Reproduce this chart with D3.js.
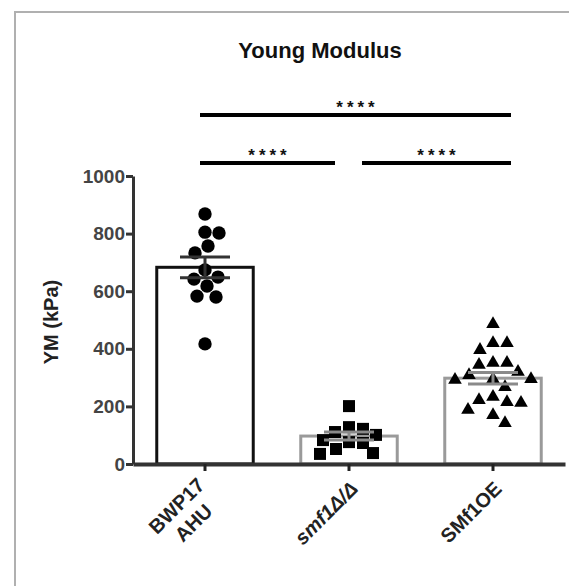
<!DOCTYPE html>
<html lang="en">
<head>
<meta charset="UTF-8">
<title>Young Modulus</title>
<script src="https://d3js.org/d3.v7.min.js"></script>
<style>
    body { margin: 0; background: #fff; }
    svg { display: block; font-family: "Liberation Sans", Arial, sans-serif; font-weight: bold; }
</style>
</head>
<body>
<div id="chart"></div>
<script>
    // data (kPa)
    var groups = ["BWP17\nAHU", "smf1Δ/Δ", "SMf1OE"];
    var wtValues = [868, 805, 802, 757, 733, 674, 649, 642, 618, 583, 580, 417];
    var deltaValues = [201, 128, 122, 111, 101, 83, 76, 73, 52, 38, 35];
    var oeValues = [486, 420, 420, 396, 351, 351, 344, 320, 309, 295, 295, 292, 267, 233, 222, 215, 212, 188, 170, 142];
    var means = [683, 97, 298];
    var sems = [36, 14, 20];
    var yTicks = [0, 200, 400, 600, 800, 1000];
    var comparisons = [
        { from: 0, to: 2, label: "****", level: 1 },
        { from: 0, to: 1, label: "****", level: 0 },
        { from: 1, to: 2, label: "****", level: 0 }
    ];

    var width = 569, height = 586;
    var series = [wtValues, deltaValues, oeValues];
    var markers = ["circle", "square", "triangle"];
    var barStroke = ["#111", "#9a9a9a", "#9a9a9a"];
    var errStroke = ["#333", "#8a8a8a", "#8a8a8a"];

    var svg = d3.select("#chart").append("svg")
        .attr("width", width)
        .attr("height", height);

    svg.append("rect").attr("width", width).attr("height", height).attr("fill", "#fff");

    // outer frame (only top and left edges show in the crop)
    svg.append("rect")
        .attr("x", 15).attr("y", 12)
        .attr("width", 700).attr("height", 700)
        .attr("fill", "none")
        .attr("stroke", "#b0b0b0")
        .attr("stroke-width", 2);

    var x = d3.scaleBand()
        .domain(d3.range(groups.length))
        .range([133, 565])
        .paddingInner(0.33)
        .paddingOuter(0.165);

    var y = d3.scaleLinear()
        .domain([0, 1000])
        .range([464, 176]);

    function cx(i) { return x(i) + x.bandwidth() / 2; }

    // title
    svg.append("text")
        .attr("x", 320).attr("y", 58)
        .attr("text-anchor", "middle")
        .attr("font-size", 22)
        .attr("fill", "#111")
        .text("Young Modulus");

    // bars
    svg.append("g").selectAll("rect")
        .data(means)
        .join("rect")
        .attr("x", (d, i) => x(i))
        .attr("y", d => y(d))
        .attr("width", x.bandwidth())
        .attr("height", d => y(0) - y(d))
        .attr("fill", "#fff")
        .attr("stroke", (d, i) => barStroke[i])
        .attr("stroke-width", 3);

    // simple beeswarm so points don't overlap
    function swarm(values, center, diam) {
        var placed = [];
        values.forEach(function (v) {
            var py = y(v);
            for (var k = 0; k < 80; k++) {
                var cands = k === 0 ? [0] : [k, -k];
                var ok = null;
                for (var c = 0; c < cands.length; c++) {
                    var dx = cands[c];
                    var hit = placed.some(p => (p.dx - dx) * (p.dx - dx) + (p.y - py) * (p.y - py) < diam * diam);
                    if (!hit) { ok = dx; break; }
                }
                if (ok !== null) { placed.push({ v: v, y: py, dx: ok }); break; }
            }
        });
        return placed.map(p => ({ x: center + p.dx, y: p.y }));
    }

    var sym = {
        circle: d3.symbol(d3.symbolCircle, 140),
        square: d3.symbol(d3.symbolSquare, 144),
        triangle: d3.symbol(d3.symbolTriangle, 80)
    };

    series.forEach(function (vals, i) {
        var pts = swarm(vals, cx(i), 14);
        svg.append("g").selectAll("path")
            .data(pts)
            .join("path")
            .attr("transform", d => "translate(" + d.x + "," + d.y + ")")
            .attr("d", sym[markers[i]]())
            .attr("fill", "#000");
    });

    // error bars (mean ± SEM)
    var eg = svg.append("g");
    means.forEach(function (m, i) {
        var c = cx(i), hi = y(m + sems[i]), lo = y(m - sems[i]);
        eg.append("line").attr("x1", c).attr("x2", c).attr("y1", hi).attr("y2", lo);
        eg.append("line").attr("x1", c - 25).attr("x2", c + 25).attr("y1", hi).attr("y2", hi);
        eg.append("line").attr("x1", c - 25).attr("x2", c + 25).attr("y1", lo).attr("y2", lo);
        eg.selectAll("line").filter(function () { return !this.getAttribute("stroke"); })
            .attr("stroke", errStroke[i]).attr("stroke-width", 3);
    });

    // axes
    var yAxis = svg.append("g")
        .attr("transform", "translate(133,0)")
        .call(d3.axisLeft(y).tickValues(yTicks).tickFormat(d3.format("d"))
            .tickSize(7).tickSizeOuter(0).tickPadding(1));
    yAxis.select(".domain").attr("stroke", "#333").attr("stroke-width", 3);
    yAxis.selectAll(".tick line").attr("stroke", "#333").attr("stroke-width", 3);
    yAxis.selectAll(".tick text")
        .attr("font-size", 19).attr("font-family", "Liberation Sans, Arial, sans-serif")
        .attr("font-weight", "bold").attr("fill", "#444");

    var xAxis = svg.append("g")
        .attr("transform", "translate(0," + y(0) + ")")
        .call(d3.axisBottom(x).tickSize(7).tickSizeOuter(0).tickFormat(""));
    xAxis.select(".domain").attr("stroke", "#333").attr("stroke-width", 4);
    xAxis.selectAll(".tick line").attr("stroke", "#222").attr("stroke-width", 3);

    // rotated category labels
    groups.forEach(function (g, i) {
        var lines = g.split("\n");
        var t = svg.append("text")
            .attr("transform", "translate(" + (cx(i) + 5) + "," + (y(0) + 21) + ") rotate(-45)")
            .attr("font-size", 20)
            .attr("fill", "#222")
            .attr("font-style", i === 1 ? "italic" : "normal");
        if (lines.length === 1) {
            t.attr("text-anchor", "end").attr("dy", "0.35em").text(g);
        } else {
            var probe = svg.append("text").attr("font-size", 20).text(lines[0]);
            var len = probe.node().getComputedTextLength();
            probe.remove();
            t.attr("text-anchor", "middle");
            lines.forEach(function (ln, k) {
                t.append("tspan")
                    .attr("x", -len / 2 - 4)
                    .attr("y", 0)
                    .attr("dy", (k * 1.2 - 0.1) + "em")
                    .text(ln);
            });
        }
    });

    // y label
    svg.append("text")
        .attr("transform", "translate(58,322) rotate(-90)")
        .attr("text-anchor", "middle")
        .attr("font-size", 20)
        .attr("fill", "#222")
        .text("YM (kPa)");

    // significance brackets
    var first = 0, last = groups.length - 1;
    comparisons.forEach(function (c) {
        var ly = y(1000) - 13 - c.level * 48;
        var x1 = cx(c.from) + (c.from === first ? -5 : 13);
        var x2 = cx(c.to) + (c.to === last ? 18 : -14);
        svg.append("line")
            .attr("x1", x1).attr("x2", x2)
            .attr("y1", ly).attr("y2", ly)
            .attr("stroke", "#000").attr("stroke-width", 4);
        svg.append("text")
            .attr("x", (x1 + x2) / 2 + 2)
            .attr("y", ly - 2)
            .attr("text-anchor", "middle")
            .attr("font-size", 17)
            .attr("letter-spacing", 4)
            .attr("fill", "#111")
            .text(c.label);
    });
</script>
</body>
</html>
